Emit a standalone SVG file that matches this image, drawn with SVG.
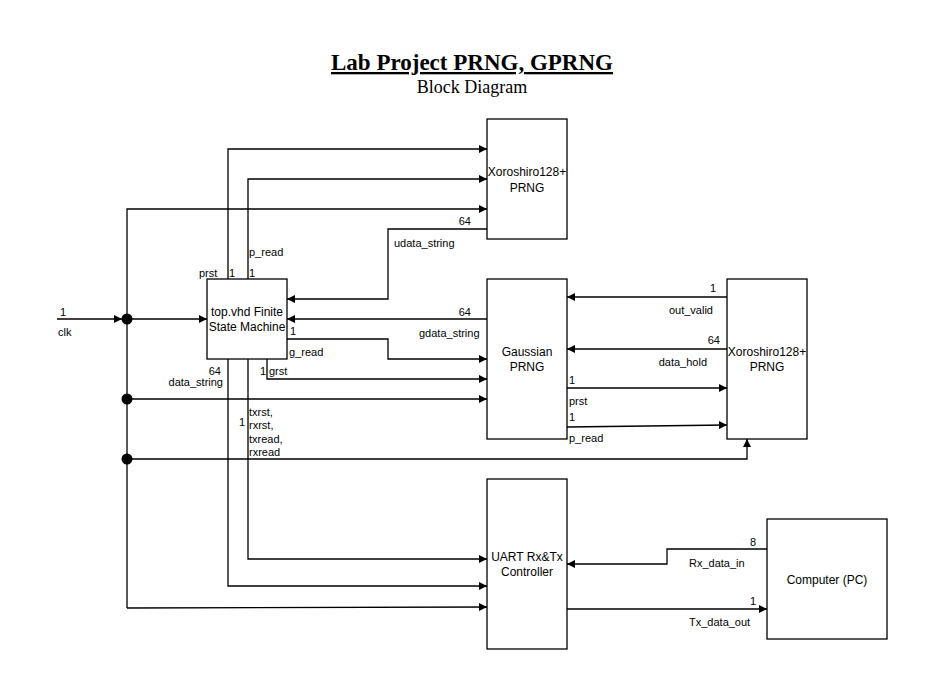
<svg xmlns="http://www.w3.org/2000/svg" width="938" height="700" viewBox="0 0 938 700">
<defs>
<marker id="arr" viewBox="0 0 10 10" refX="10" refY="5" markerWidth="8" markerHeight="8" markerUnits="userSpaceOnUse" orient="auto">
<path d="M0,0 L10,5 L0,10 z" fill="#000"/>
</marker>
<style>
.box{fill:#fff;stroke:#000;stroke-width:1.3}
.bt{font-family:"Liberation Sans",Arial,sans-serif;font-size:12px;fill:#000;text-anchor:middle}
.lb{font-family:"Liberation Sans",Arial,sans-serif;font-size:11px;fill:#000}
.e{text-anchor:end}
.c{fill:none;stroke:#000;stroke-width:1.3;marker-end:url(#arr)}
.n{fill:none;stroke:#000;stroke-width:1.3}
.dot{fill:#000}
</style>
</defs>
<rect width="938" height="700" fill="#fff"/>
<g id="title">
<text x="472" y="70" font-family="'Liberation Serif','Times New Roman',serif" font-size="23" font-weight="bold" text-anchor="middle" text-decoration="underline">Lab Project PRNG, GPRNG</text>
<text x="472" y="93" font-family="'Liberation Serif','Times New Roman',serif" font-size="18" text-anchor="middle">Block Diagram</text>
</g>
<g id="connectors">
<path class="c" d="M57,319 H122"/>
<path class="c" d="M127,319 H207"/>
<path class="c" d="M127,608 V209 H487"/>
<path class="c" d="M127,608 L487,607"/>
<path class="c" d="M127,399 H487"/>
<path class="c" d="M127,459 H747 V439"/>
<path class="c" d="M228,279 V149 H487"/>
<path class="c" d="M228,359 V586 H487"/>
<path class="c" d="M248,279 V179 H487"/>
<path class="c" d="M248,359 V559 H487"/>
<path class="c" d="M487,229 H388 V299 H287"/>
<path class="c" d="M487,319 H287"/>
<path class="c" d="M287,339 H388 V359 H487"/>
<path class="c" d="M267,359 V379 H487"/>
<path class="c" d="M727,297 H567"/>
<path class="c" d="M727,349 H567"/>
<path class="c" d="M567,388 H727"/>
<path class="c" d="M567,427 L727,425"/>
<path class="c" d="M767,549 H667 V564 H567"/>
<path class="c" d="M567,609 H767"/>
<circle class="dot" cx="127" cy="319" r="5.5"/>
<circle class="dot" cx="127" cy="399" r="5.5"/>
<circle class="dot" cx="127" cy="459" r="5.5"/>
</g>
<g id="connector-labels">
<text class="lb" x="60" y="316">1</text>
<text class="lb" x="58" y="336">clk</text>
<text class="lb" x="199" y="277">prst</text>
<text class="lb" x="229" y="277">1</text>
<text class="lb" x="249" y="277">1</text>
<text class="lb" x="249" y="256">p_read</text>
<text class="lb e" x="471" y="225">64</text>
<text class="lb" x="394" y="247">udata_string</text>
<text class="lb e" x="471" y="316">64</text>
<text class="lb" x="419" y="337">gdata_string</text>
<text class="lb" x="290" y="335">1</text>
<text class="lb" x="289" y="356">g_read</text>
<text class="lb e" x="266" y="375">1</text>
<text class="lb" x="269" y="375">grst</text>
<text class="lb e" x="221" y="375">64</text>
<text class="lb e" x="223" y="386">data_string</text>
<text class="lb e" x="245" y="426">1</text>
<text class="lb" x="249" y="416">txrst,</text>
<text class="lb" x="249" y="429">rxrst,</text>
<text class="lb" x="249" y="442.5">txread,</text>
<text class="lb" x="249" y="456">rxread</text>
<text class="lb e" x="716" y="292">1</text>
<text class="lb e" x="713" y="314">out_valid</text>
<text class="lb e" x="720" y="344">64</text>
<text class="lb e" x="707" y="366">data_hold</text>
<text class="lb" x="569" y="384">1</text>
<text class="lb" x="569" y="405">prst</text>
<text class="lb" x="569" y="421">1</text>
<text class="lb" x="569" y="442">p_read</text>
<text class="lb e" x="756" y="546">8</text>
<text class="lb" x="689" y="567">Rx_data_in</text>
<text class="lb e" x="756" y="605">1</text>
<text class="lb" x="689" y="626">Tx_data_out</text>
</g>
<g id="xoroshiro-top">
<rect class="box" x="487" y="119" width="80" height="120"/>
<text class="bt" x="527" y="176">Xoroshiro128+</text>
<text class="bt" x="527" y="191.5">PRNG</text>
</g>
<g id="fsm">
<rect class="box" x="207" y="279" width="80" height="80"/>
<text class="bt" x="247" y="316">top.vhd Finite</text>
<text class="bt" x="247" y="330.5">State Machine</text>
</g>
<g id="gaussian">
<rect class="box" x="487" y="279" width="80" height="160"/>
<text class="bt" x="527" y="356">Gaussian</text>
<text class="bt" x="527" y="371">PRNG</text>
</g>
<g id="xoroshiro-right">
<rect class="box" x="727" y="279" width="80" height="160"/>
<text class="bt" x="767" y="355.5">Xoroshiro128+</text>
<text class="bt" x="767" y="371">PRNG</text>
</g>
<g id="uart">
<rect class="box" x="487" y="479" width="80" height="170"/>
<text class="bt" x="527" y="561">UART Rx&amp;Tx</text>
<text class="bt" x="527" y="576">Controller</text>
</g>
<g id="computer">
<rect class="box" x="767" y="519" width="120" height="120"/>
<text class="bt" x="827" y="584">Computer (PC)</text>
</g>
</svg>
